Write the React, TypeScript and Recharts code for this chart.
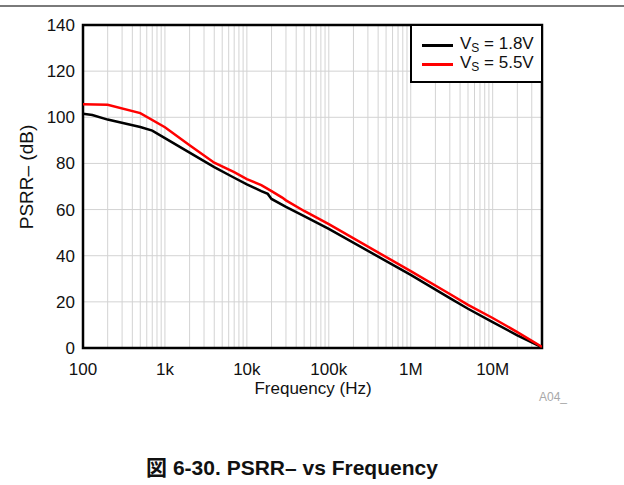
import React from 'react';
import { CartesianGrid, Line, LineChart, ReferenceArea, XAxis, YAxis } from 'recharts';

// PSRR– vs frequency
const FREQ_1V8 = [100, 130, 200, 500, 700, 1000, 2000, 4000, 7000, 10000, 15000, 18000, 20000, 30000, 50000, 1e5, 1e6, 3e6, 5e6, 1e7, 2e7, 4e7];
const PSRR_1V8 = [101.5, 101.0, 99.0, 95.8, 94.2, 91.0, 84.7, 78.4, 73.8, 70.9, 68.0, 66.8, 64.6, 61.2, 57.2, 51.6, 31.7, 21.6, 17.0, 11.2, 5.5, 0.3];

const FREQ_5V5 = [100, 200, 500, 1000, 2000, 4000, 7000, 10000, 15000, 20000, 27000, 30000, 50000, 1e5, 1e6, 3e6, 5e6, 1e7, 2e7, 4e7];
const PSRR_5V5 = [105.6, 105.4, 101.8, 95.7, 87.9, 80.3, 76.2, 73.2, 70.6, 68.0, 65.2, 64.0, 59.4, 53.7, 33.3, 23.4, 18.7, 13.0, 6.9, 0.5];

const SERIES = [
  { key: '1v8', volts: '1.8V', color: '#000000', freq: FREQ_1V8, psrr: PSRR_1V8 },
  { key: '5v5', volts: '5.5V', color: '#ff0000', freq: FREQ_5V5, psrr: PSRR_5V5 },
];

const DECADES = [100, 1000, 10000, 100000, 1000000, 10000000];
const DECADE_LABELS = ['100', '1k', '10k', '100k', '1M', '10M'];
const X_MAX = 4e7;
const Y_TICKS = [0, 20, 40, 60, 80, 100, 120, 140];

// every 1..9 multiple inside the range, for the log grid
const GRID_TICKS: number[] = [];
DECADES.forEach((d) => {
  for (let m = 1; m <= 9; m++) if (d * m <= X_MAX) GRID_TICKS.push(d * m);
});

const FONT = "Arial, 'Liberation Sans', 'Noto Sans CJK JP', sans-serif";
const TICK = { fontSize: 17, fill: '#111', fontFamily: FONT };

const fmtX = (v: number) => {
  const i = DECADES.indexOf(v);
  return i >= 0 ? DECADE_LABELS[i] : '';
};

export default function App() {
  return (
    <div style={{ position: 'absolute', left: 0, top: 0, width: 624, height: 485, background: '#fff', fontFamily: FONT }}>
      <div style={{ position: 'absolute', left: 0, top: 5, width: 624, height: 2, background: '#7a7a7a' }} />
      <LineChart width={624} height={485} margin={{ top: 25, right: 82, bottom: 97, left: 0 }}>
        <CartesianGrid stroke="#d3d3d3" strokeWidth={1} />
        <XAxis
          dataKey="f"
          type="number"
          scale="log"
          domain={[100, X_MAX]}
          ticks={GRID_TICKS}
          interval={0}
          tickFormatter={fmtX}
          allowDataOverflow
          axisLine={false}
          tickLine={false}
          tickSize={0}
          tickMargin={15}
          height={40}
          tick={TICK}
        />
        <YAxis
          type="number"
          domain={[0, 140]}
          ticks={Y_TICKS}
          interval={0}
          axisLine={false}
          tickLine={false}
          tickSize={0}
          tickMargin={8}
          width={83}
          tick={TICK}
        />
        {SERIES.map((s) => (
          <Line
            key={s.key}
            data={s.freq.map((f, i) => ({ f, v: s.psrr[i] }))}
            dataKey="v"
            stroke={s.color}
            strokeWidth={2.5}
            dot={false}
            type="linear"
            isAnimationActive={false}
          />
        ))}
        <ReferenceArea x1={100} x2={X_MAX} y1={0} y2={140} fill="none" stroke="#000" strokeWidth={2.5} ifOverflow="visible" />
      </LineChart>

      {/* legend */}
      <div
        style={{
          position: 'absolute',
          left: 410,
          top: 24,
          width: 129,
          height: 55,
          border: '2px solid #000',
          background: '#fff',
        }}
      >
        {SERIES.map((s, i) => (
          <div key={s.key} style={{ position: 'absolute', left: 0, top: 10 + i * 19, height: 18, width: 129 }}>
            <div style={{ position: 'absolute', left: 10, top: 8, width: 31, height: 2.5, background: s.color }} />
            <div style={{ position: 'absolute', left: 48, top: -1, fontSize: 17, lineHeight: '18px', color: '#111', whiteSpace: 'nowrap' }}>
              V<sub style={{ fontSize: 12, verticalAlign: -3 }}>S</sub> = {s.volts}
            </div>
          </div>
        ))}
      </div>

      {/* axis titles */}
      <div
        style={{
          position: 'absolute',
          left: 27,
          top: 177,
          transform: 'translate(-50%, -50%) rotate(-90deg)',
          fontSize: 19,
          color: '#111',
          whiteSpace: 'nowrap',
        }}
      >
        PSRR– (dB)
      </div>
      <div
        style={{
          position: 'absolute',
          left: 313,
          top: 389,
          transform: 'translate(-50%, -50%)',
          fontSize: 17,
          color: '#111',
          whiteSpace: 'nowrap',
        }}
      >
        Frequency (Hz)
      </div>
      <div style={{ position: 'absolute', left: 539, top: 390, fontSize: 12, color: '#a8a8a8' }}>A04_</div>

      <div
        style={{
          position: 'absolute',
          left: 292,
          top: 466,
          transform: 'translate(-50%, -50%)',
          fontSize: 21,
          fontWeight: 'bold',
          color: '#111',
          whiteSpace: 'nowrap',
        }}
      >
        図 6-30. PSRR– vs Frequency
      </div>
    </div>
  );
}
